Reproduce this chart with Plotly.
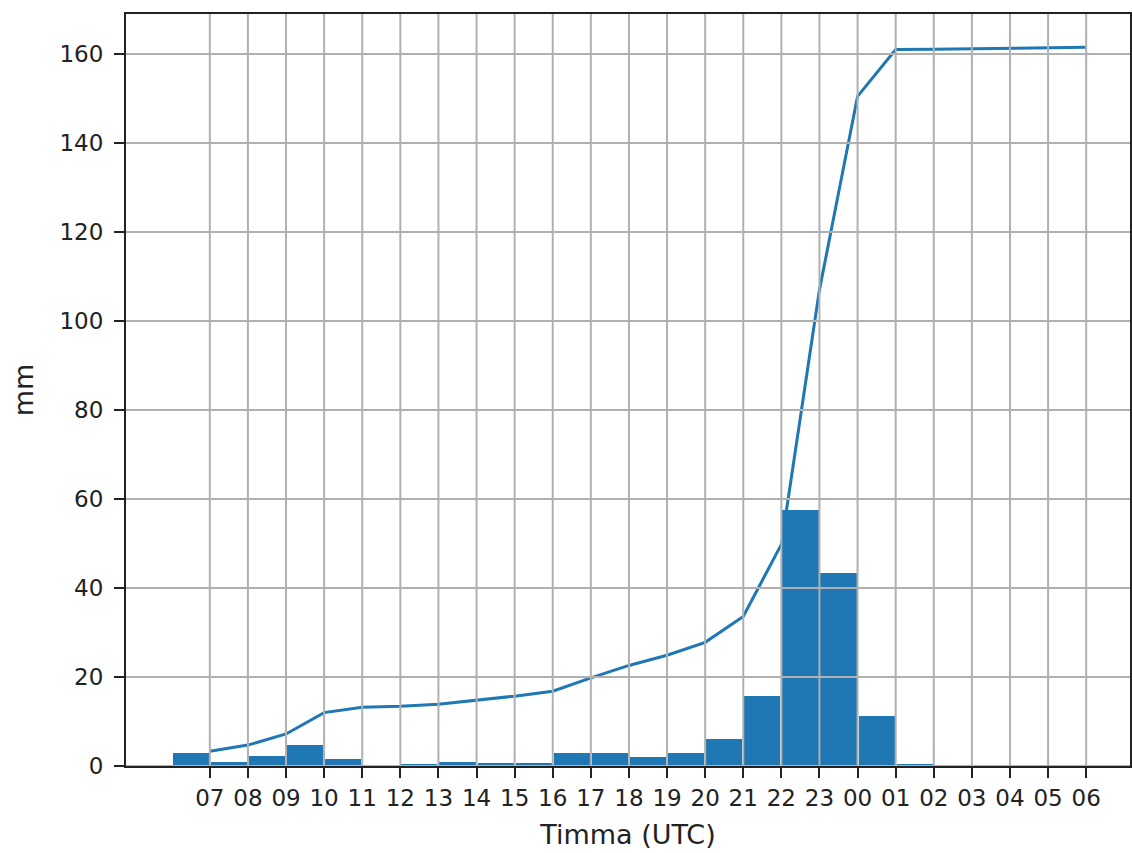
import plotly.graph_objects as go

hours = ["07", "08", "09", "10", "11", "12", "13", "14", "15", "16", "17", "18",
         "19", "20", "21", "22", "23", "00", "01", "02", "03", "04", "05", "06"]
# hourly precipitation (mm) for the hour ending at each label
hourly_mm = [2.9, 1.0, 2.3, 4.7, 1.5, 0.0, 0.4, 0.8, 0.7, 0.7, 2.9, 2.9,
             2.1, 2.9, 6.0, 15.8, 57.5, 43.3, 11.3, 0.3, 0.0, 0.0, 0.0, 0.0]
# accumulated precipitation (mm) at each label
cumulative_mm = [3.3, 4.7, 7.2, 12.0, 13.2, 13.4, 13.9, 14.8, 15.7, 16.8, 19.8, 22.6,
                 24.9, 27.8, 33.6, 49.8, 107.0, 150.5, 161.0, 161.1, 161.2, 161.3, 161.3, 161.5]
y_ticks = [0, 20, 40, 60, 80, 100, 120, 140, 160]

idx = list(range(len(hours)))
bar_x = [i - 0.5 for i in idx]

blue = "#1f77b4"
grid_col = "#b0b0b0"
tick_font = dict(family="DejaVu Sans", size=23, color="#222222")
title_font = dict(family="DejaVu Sans", size=27, color="#222222")

fig = go.Figure()
fig.add_trace(go.Bar(x=bar_x, y=hourly_mm, width=0.95, marker=dict(color=blue, line=dict(width=0)),
                     name="Timnedbør"))
fig.add_trace(go.Scatter(x=idx, y=cumulative_mm, mode="lines", line=dict(color=blue, width=3),
                         name="Akkumulert"))

shapes = []
for i in idx:
    shapes.append(dict(type="line", xref="x", yref="paper", x0=i, x1=i, y0=0, y1=1,
                       line=dict(color=grid_col, width=2), layer="above"))
for v in y_ticks:
    shapes.append(dict(type="line", xref="paper", yref="y", x0=0, x1=1, y0=v, y1=v,
                       line=dict(color=grid_col, width=2), layer="above"))

fig.update_layout(
    width=1132, height=853,
    margin=dict(l=126, r=2, t=14, b=87),
    paper_bgcolor="white", plot_bgcolor="white",
    showlegend=False, bargap=0,
    font=tick_font,
    shapes=shapes,
)
fig.update_xaxes(
    range=[-2.2, 24.15], tickmode="array", tickvals=idx, ticktext=hours, automargin=False,
    showgrid=False, zeroline=False, showline=True, linecolor="#222222", linewidth=2, mirror=True,
    ticks="outside", ticklen=10, tickwidth=2, tickcolor="#222222", ticklabelstandoff=0,
    tickfont=tick_font, title=dict(text="Timma (UTC)", font=title_font, standoff=16),
)
fig.update_yaxes(
    range=[0, 169], tickmode="array", tickvals=y_ticks, automargin=False,
    showgrid=False, zeroline=False, showline=True, linecolor="#222222", linewidth=2, mirror=True,
    ticks="outside", ticklen=10, tickwidth=2, tickcolor="#222222", ticklabelstandoff=6,
    tickfont=tick_font, title=dict(text="mm", font=title_font, standoff=18),
)

fig.write_html(
    "out.html",
    config={"displayModeBar": False},
    post_script="document.body.style.margin='0';document.body.style.overflow='hidden';",
)
